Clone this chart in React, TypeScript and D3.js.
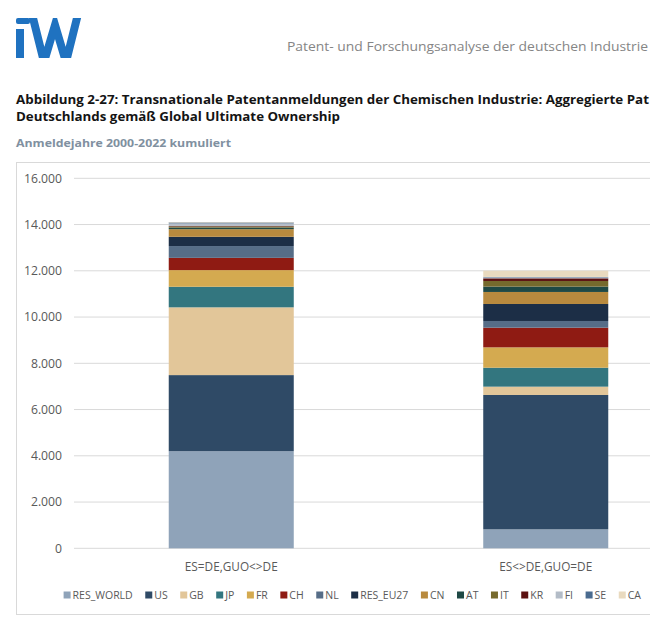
import React from 'react';
import * as d3 from 'd3';

// chart data
const categories = ['ES=DE,GUO<>DE', 'ES<>DE,GUO=DE'];
const seriesNames = ['RES_WORLD', 'US', 'GB', 'JP', 'FR', 'CH', 'NL', 'RES_EU27', 'CN', 'AT', 'IT', 'KR', 'FI', 'SE', 'CA'];
const valuesDomesticOwner = [4200, 3290, 2930, 890, 720, 530, 510, 400, 330, 70, 50, 20, 110, 40, 20];
const valuesGermanOwner = [820, 5810, 360, 820, 880, 850, 290, 735, 520, 230, 245, 115, 40, 20, 270];
const seriesColors = [
  '#8fa3b9', '#2f4a66', '#e2c699', '#33767f', '#d4aa50', '#8f1b13', '#566d87', '#1c2e46',
  '#b88a3e', '#1f4945', '#766a2d', '#5c1111', '#b3bcc7', '#4a6b8f', '#e9dabf'
];
const yTicks = [0, 2000, 4000, 6000, 8000, 10000, 12000, 14000, 16000];

const W = 650;
const H = 618;
const FONT = "'Open Sans', 'DejaVu Sans', sans-serif";

const deFormat = d3.formatLocale({ decimal: ',', thousands: '.', grouping: [3], currency: ['', '€'] }).format(',.0f');

const measure = (text: string, font: string) => {
  const ctx = document.createElement('canvas').getContext('2d');
  if (!ctx) return text.length * 6;
  ctx.font = font;
  return ctx.measureText(text).width;
};

const App: React.FC = () => {
  const rows = categories.map((c, i) => {
    const vals = i === 0 ? valuesDomesticOwner : valuesGermanOwner;
    const row: any = { category: c };
    seriesNames.forEach((s, j) => { row[s] = vals[j]; });
    return row;
  });

  const stacked = d3.stack<any>().keys(seriesNames)(rows);

  // plot area
  const plot = { left: 74, right: 703, top: 178.3, bottom: 548.3 };

  const x = d3.scaleBand<string>()
    .domain(categories)
    .range([plot.left, plot.right])
    .paddingInner(0.6025)
    .paddingOuter(0.30125);

  const y = d3.scaleLinear()
    .domain([0, 16000])
    .range([plot.bottom, plot.top]);

  // legend layout
  const legendFont = `10.5px ${FONT}`;
  const legendStart = 63.6;
  const legendEnd = 641;
  const sq = 7;
  const sqGap = 2;
  const widths = seriesNames.map(s => measure(s, legendFont));
  const itemW = widths.map(w => sq + sqGap + w);
  const gap = (legendEnd - legendStart - d3.sum(itemW)) / (seriesNames.length - 1);
  const legendX: number[] = [];
  let cx = legendStart;
  itemW.forEach(w => { legendX.push(cx); cx += w + gap; });
  const legendY = 595;

  return (
    <svg width={W} height={H} style={{ position: 'absolute', left: 0, top: 0, display: 'block', background: '#fff' }}
      fontFamily={FONT}>
      <defs>
        <clipPath id="logo-clip">
          <rect x={0} y={18} width={100} height={40} />
        </clipPath>
      </defs>

      {/* IW logo */}
      <g fill="#1f72c0">
        <rect x={16} y={18} width={14} height={6} rx={2} />
        <rect x={16} y={29} width={8} height={29} />
      </g>
      <polyline clipPath="url(#logo-clip)" points="31,10 44,62 55,25 66,62 79,10"
        fill="none" stroke="#1f72c0" strokeWidth={8} strokeLinejoin="miter" strokeMiterlimit={10} />

      <text x={648} y={51} textAnchor="end" fontSize={12.8} fill="#858585"
        textLength={361} lengthAdjust="spacingAndGlyphs">
        Patent- und Forschungsanalyse der deutschen Industrie
      </text>

      {/* titles */}
      <text x={16} y={104} fontSize={12.8} fontWeight={700} fill="#141414"
        textLength={633} lengthAdjust="spacingAndGlyphs">
        Abbildung 2-27: Transnationale Patentanmeldungen der Chemischen Industrie: Aggregierte Pat
      </text>
      <text x={16} y={121} fontSize={12.8} fontWeight={700} fill="#141414"
        textLength={324} lengthAdjust="spacingAndGlyphs">
        Deutschlands gemäß Global Ultimate Ownership
      </text>
      <text x={16} y={147} fontSize={11.4} fontWeight={700} fill="#8090a0"
        textLength={215} lengthAdjust="spacingAndGlyphs">
        Anmeldejahre 2000-2022 kumuliert
      </text>

      {/* chart frame */}
      <rect x={16.5} y={162.5} width={700} height={452} fill="#fff" stroke="#d9d9d9" strokeWidth={1} />

      {/* gridlines and y tick labels */}
      <g>
        {yTicks.map(t => (
          <g key={t}>
            <line x1={plot.left} x2={W} y1={y(t)} y2={y(t)} stroke="#d9d9d9" strokeWidth={1} />
            <text x={62} y={y(t)} dy="0.35em" textAnchor="end" fontSize={12.2} fill="#595959">
              {deFormat(t)}
            </text>
          </g>
        ))}
      </g>

      {/* stacked bars */}
      <g>
        {stacked.map((layer, i) => (
          <g key={layer.key} fill={seriesColors[i]}>
            {layer.map((d: any) => (
              <rect key={d.data.category}
                x={x(d.data.category)}
                y={y(d[1])}
                width={x.bandwidth()}
                height={Math.max(0, y(d[0]) - y(d[1]))} />
            ))}
          </g>
        ))}
      </g>

      {/* category labels */}
      <g>
        {categories.map(c => (
          <text key={c} x={(x(c) || 0) + x.bandwidth() / 2} y={571} textAnchor="middle"
            fontSize={11.8} fill="#595959">
            {c}
          </text>
        ))}
      </g>

      {/* legend */}
      <g>
        {seriesNames.map((s, i) => (
          <g key={s} transform={`translate(${legendX[i]},${legendY})`}>
            <rect x={0} y={-sq / 2} width={sq} height={sq} fill={seriesColors[i]} />
            <text x={sq + sqGap} y={0} dy="0.35em" fontSize={10.5} fill="#595959">{s}</text>
          </g>
        ))}
      </g>
    </svg>
  );
};

export default App;
